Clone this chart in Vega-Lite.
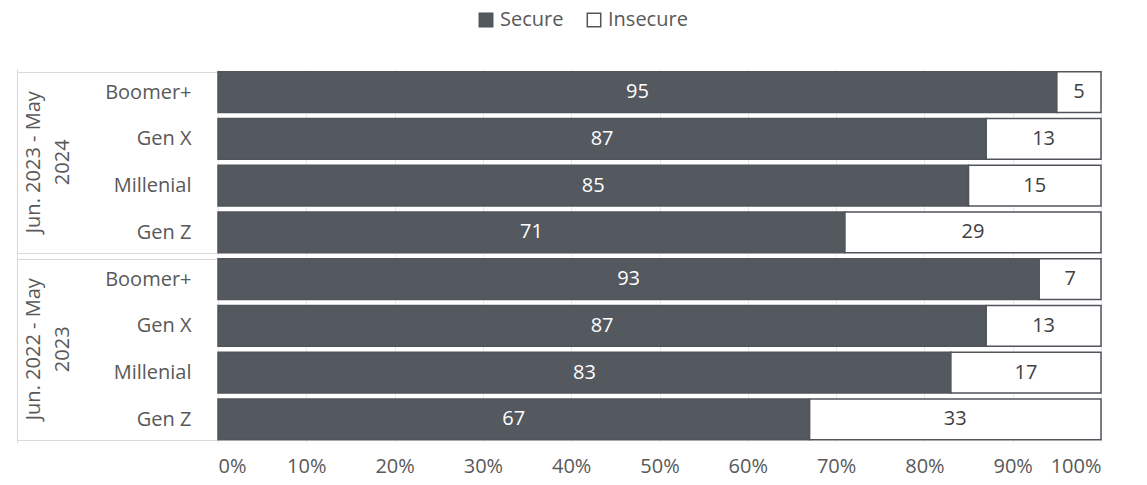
{
  "$schema": "https://vega.github.io/schema/vega-lite/v6.json",
  "background": "white",
  "padding": {"left": 16, "top": 10, "right": 40, "bottom": 0},
  "config": {"font": "Open Sans", "view": {"stroke": null}},
  "data": {"values": [
    {"period": "Jun. 2023 - May 2024", "gen": "Boomer+", "series": "Secure", "value": 95},
    {"period": "Jun. 2023 - May 2024", "gen": "Boomer+", "series": "Insecure", "value": 5},
    {"period": "Jun. 2023 - May 2024", "gen": "Gen X", "series": "Secure", "value": 87},
    {"period": "Jun. 2023 - May 2024", "gen": "Gen X", "series": "Insecure", "value": 13},
    {"period": "Jun. 2023 - May 2024", "gen": "Millenial", "series": "Secure", "value": 85},
    {"period": "Jun. 2023 - May 2024", "gen": "Millenial", "series": "Insecure", "value": 15},
    {"period": "Jun. 2023 - May 2024", "gen": "Gen Z", "series": "Secure", "value": 71},
    {"period": "Jun. 2023 - May 2024", "gen": "Gen Z", "series": "Insecure", "value": 29},
    {"period": "Jun. 2022 - May 2023", "gen": "Boomer+", "series": "Secure", "value": 93},
    {"period": "Jun. 2022 - May 2023", "gen": "Boomer+", "series": "Insecure", "value": 7},
    {"period": "Jun. 2022 - May 2023", "gen": "Gen X", "series": "Secure", "value": 87},
    {"period": "Jun. 2022 - May 2023", "gen": "Gen X", "series": "Insecure", "value": 13},
    {"period": "Jun. 2022 - May 2023", "gen": "Millenial", "series": "Secure", "value": 83},
    {"period": "Jun. 2022 - May 2023", "gen": "Millenial", "series": "Insecure", "value": 17},
    {"period": "Jun. 2022 - May 2023", "gen": "Gen Z", "series": "Secure", "value": 67},
    {"period": "Jun. 2022 - May 2023", "gen": "Gen Z", "series": "Insecure", "value": 33}
  ]},
  "facet": {
    "row": {
      "field": "period", "type": "nominal",
      "sort": ["Jun. 2023 - May 2024", "Jun. 2022 - May 2023"],
      "title": null,
      "header": {
        "labelAngle": -90, "labelOrient": "left", "labelAlign": "center",
        "labelExpr": "[slice(datum.value, 0, 15), slice(datum.value, 16)]",
        "labelFontSize": 20, "labelColor": "#595959", "labelLineHeight": 29,
        "labelPadding": -66, "labelFont": "Open Sans"
      }
    }
  },
  "spacing": {"row": 0},
  "spec": {
    "width": 883,
    "height": 186.5,
    "layer": [
      {
        "mark": {"type": "bar", "stroke": "#50545b", "strokeWidth": 1.5},
        "encoding": {
          "y": {
            "field": "gen", "type": "nominal",
            "sort": ["Boomer+", "Gen X", "Millenial", "Gen Z"],
            "title": null,
            "scale": {"paddingInner": 0.13, "paddingOuter": 0.06},
            "axis": {
              "labelFontSize": 20, "labelColor": "#595959",
              "offset": 200,
              "ticks": true, "tickBand": "extent", "tickSize": -200,
              "labelPadding": 26,
              "tickColor": {"condition": {"test": "datum.value === 'Gen Z' || datum.index === -1", "value": "#d9d9d9"}, "value": "transparent"},
              "domain": true, "domainColor": "#d9d9d9", "domainWidth": 1
            }
          },
          "x": {
            "field": "value", "type": "quantitative", "stack": "zero",
            "scale": {"domain": [0, 100]},
            "title": null,
            "axis": {
              "values": [0, 10, 20, 30, 40, 50, 60, 70, 80, 90, 100],
              "labelExpr": "datum.value + '%'",
              "labelFontSize": 20, "labelColor": "#595959", "labelPadding": 13,
              "ticks": false, "domain": false,
              "grid": true, "gridColor": "#e8e8e8"
            }
          },
          "color": {
            "field": "series", "type": "nominal",
            "sort": ["Secure", "Insecure"],
            "scale": {"domain": ["Secure", "Insecure"], "range": ["#54585f", "#ffffff"]},
            "legend": {
              "title": null, "orient": "none", "legendX": 258, "legendY": -59, "direction": "horizontal",
              "symbolType": "square", "symbolSize": 180,
              "symbolStrokeColor": "#50545b", "symbolStrokeWidth": 1.5,
              "labelFontSize": 20, "labelColor": "#595959", "columnPadding": 20, "labelOffset": 4
            }
          },
          "order": {"field": "series", "sort": "descending"}
        }
      },
      {
        "mark": {"type": "text", "fontSize": 20},
        "encoding": {
          "y": {"field": "gen", "type": "nominal", "sort": ["Boomer+", "Gen X", "Millenial", "Gen Z"]},
          "x": {"field": "value", "type": "quantitative", "stack": "zero", "bandPosition": 0.5},
          "detail": {"field": "series"},
          "order": {"field": "series", "sort": "descending"},
          "text": {"field": "value"},
          "color": {"condition": {"test": "datum.series === 'Secure'", "value": "#ffffff"}, "value": "#404040"}
        }
      }
    ]
  }
}
